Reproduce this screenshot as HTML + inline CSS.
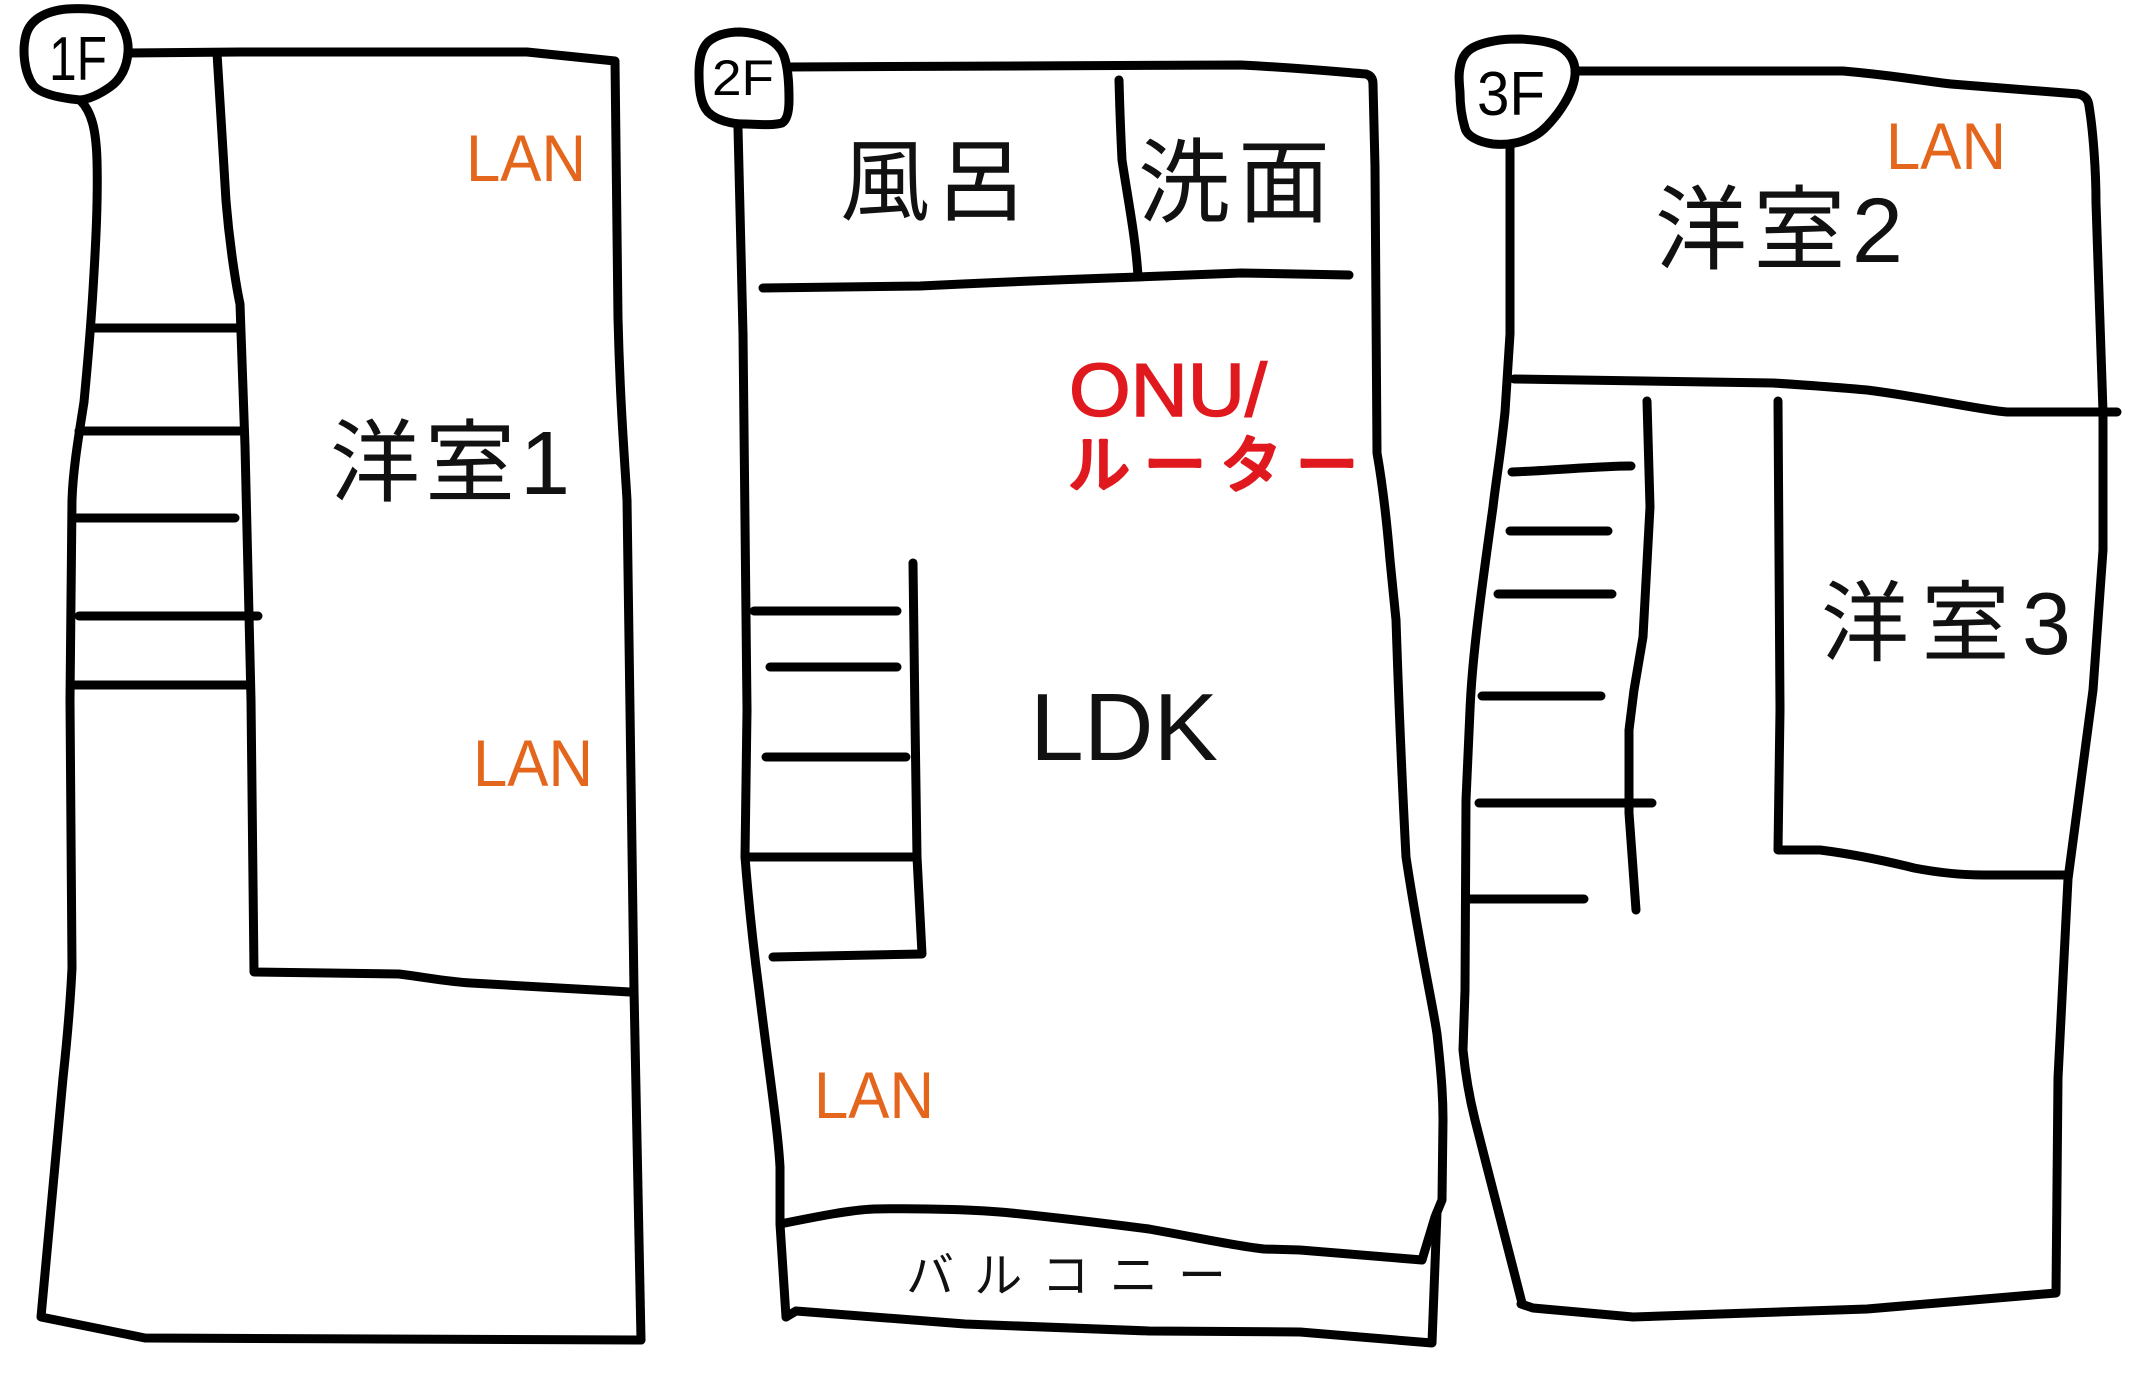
<!DOCTYPE html>
<html><head><meta charset="utf-8"><style>
html,body{margin:0;padding:0;background:#fff;}
body{width:2132px;height:1374px;overflow:hidden;}
svg{display:block;}
.w{fill:none;stroke:#000;stroke-width:9;stroke-linecap:round;stroke-linejoin:round;}
.jp{font-family:"Liberation Sans","Noto Sans CJK JP",sans-serif;font-weight:400;fill:#111;}
.lan{font-family:"Liberation Sans","Noto Sans CJK JP",sans-serif;fill:#e4661d;font-size:66px;}
.fl{font-family:"Liberation Sans",sans-serif;fill:#000;}
.red{fill:#e0191f;}
</style></head><body>
<svg width="2132" height="1374" viewBox="0 0 2132 1374" xmlns="http://www.w3.org/2000/svg">
<rect width="2132" height="1374" fill="#fff"/>

<!-- ===== 1F ===== -->
<path class="w" d="M80,100 C60,98 40,94 33,85 C24,72 22,50 26,35 C30,20 45,11 67,9 C85,8 100,9 110,14 C124,22 129,40 128,52 C127,68 120,80 110,87 C100,94 90,99 80,100 Z"/>
<text class="fl" x="78" y="80" font-size="62" text-anchor="middle" textLength="58" lengthAdjust="spacingAndGlyphs">1F</text>
<path class="w" d="M80,100 C92,112 96,130 97,160 C98,200 96,240 93,290 C90,340 86,380 84,402 C78,440 73,470 72,500 L70,700 L72,968 C70,1010 66,1050 63,1078 L41,1317 L145,1338 L641,1340"/>
<path class="w" d="M128,53 L240,52 L527,52 L615,61 L618,318 C620,400 624,450 627,500 L634,990 L641,1340"/>
<path class="w" d="M217,53 C220,100 224,170 226,201 C230,250 237,290 240,304 L245,446 L251,700 L254,972 L399,974 C430,978 450,982 471,983 L630,992"/>
<path class="w" d="M93,328 L238,328 M79,431 L240,431 M77,518 L235,518 M79,616 L258,616 M75,685 L247,685"/>
<text class="lan" x="466" y="181" textLength="120" lengthAdjust="spacingAndGlyphs">LAN</text>
<text class="lan" x="473" y="786" textLength="120" lengthAdjust="spacingAndGlyphs">LAN</text>
<text class="jp" x="330" y="494" font-size="90" textLength="240">洋室1</text>

<!-- ===== 2F ===== -->
<path class="w" d="M745,124 C730,124 716,120 708,112 C700,103 699,88 699,73 C699,58 702,48 708,42 C716,35 726,32 740,32 C760,33 778,40 784,56 C789,70 789,90 789,100 C789,112 787,120 782,123 C770,126 757,124 745,124 Z"/>
<text class="fl" x="743" y="95" font-size="50" text-anchor="middle" textLength="62" lengthAdjust="spacingAndGlyphs">2F</text>
<path class="w" d="M789,67 L1241,65 C1300,68 1340,72 1366,74 Q1373,76 1373,84 L1375,167 L1377,453 C1380,470 1385,500 1390,560 L1396,620 C1400,740 1403,800 1406,857 C1420,950 1432,1000 1437,1034 C1442,1080 1443,1100 1443,1120 L1442,1200 L1435,1217 L1422,1260"/>
<path class="w" d="M1437,1212 L1432,1343 L1300,1332 L1149,1331 L965,1324 L796,1311 L786,1317"/>
<path class="w" d="M780,1224 C820,1216 850,1210 874,1209 C930,1208 980,1210 1011,1213 C1070,1219 1110,1224 1149,1229 C1200,1238 1235,1246 1264,1249 L1300,1250 L1422,1260"/>
<path class="w" d="M738,128 L743,334 L747,710 L745,857 C750,920 755,960 759,990 C770,1080 778,1130 780,1167 L780,1224 L786,1317"/>
<path class="w" d="M763,288 L920,286 C1000,282 1080,279 1138,277 L1241,273 L1349,275"/>
<path class="w" d="M1119,80 C1120,120 1121,140 1122,160 C1128,200 1136,240 1138,277"/>
<path class="w" d="M913,563 L915,720 L917,857 L922,954 L773,957"/>
<path class="w" d="M754,611 L897,611 M770,667 L897,667 M766,757 L906,757 M745,857 L915,857"/>
<text class="jp" x="840" y="213" font-size="90" textLength="186">風呂</text>
<text class="jp" x="1138" y="215" font-size="92" textLength="192">洗面</text>
<text class="fl red" x="1069" y="416" font-size="75" textLength="198" lengthAdjust="spacingAndGlyphs" stroke="#e0191f" stroke-width="1.5">ONU/</text>
<text class="jp" x="1068" y="487" font-size="62" font-weight="700" textLength="290" style="fill:#e0191f" stroke="#e0191f" stroke-width="3.5" stroke-linejoin="round">ルーター</text>
<text class="fl" x="1030" y="760" font-size="96" textLength="188" lengthAdjust="spacingAndGlyphs" style="fill:#111">LDK</text>
<text class="lan" x="814" y="1118" textLength="120" lengthAdjust="spacingAndGlyphs">LAN</text>
<text class="jp" x="906" y="1292" font-size="48" textLength="320">バルコニー</text>

<!-- ===== 3F ===== -->
<path class="w" d="M1493,144 C1478,142 1467,136 1465,128 C1461,115 1460,100 1460,92 C1459,80 1458,72 1462,60 C1466,50 1474,46 1485,43 C1500,39 1510,39 1520,39 C1540,40 1555,43 1562,48 C1572,55 1576,64 1575,75 C1574,88 1566,102 1558,113 C1548,126 1540,134 1530,138 C1518,144 1505,145 1493,144 Z"/>
<text class="fl" x="1511" y="115" font-size="62" text-anchor="middle" textLength="68" lengthAdjust="spacingAndGlyphs">3F</text>
<path class="w" d="M1575,71 L1843,71 C1900,76 1930,82 1951,84 L2078,94 Q2088,96 2089,106 C2093,130 2096,170 2096,203 L2103,412 L2103,550 L2093,690 L2068,879 L2058,1078 L2056,1293 L1867,1309 L1633,1317 L1533,1308 L1521,1304"/>
<path class="w" d="M1510,145 L1510,334 L1505,412 C1500,460 1496,480 1493,507 C1480,600 1472,660 1470,710 L1466,800 L1465,990 L1463,1050 C1466,1080 1470,1100 1475,1120 L1487,1167 L1522,1303"/>
<path class="w" d="M1514,379 L1773,383 C1820,386 1845,388 1867,390 C1930,398 1980,410 2007,412 L2117,412"/>
<path class="w" d="M1647,401 L1650,507 L1643,637 L1634,690 L1629,730 L1629,813 L1636,910"/>
<path class="w" d="M1778,401 L1780,710 L1778,850 L1820,850 C1860,855 1890,862 1914,868 C1940,873 1960,875 1984,875 L2065,875"/>
<path class="w" d="M1512,472 C1560,470 1600,466 1631,466 M1510,531 L1608,531 M1498,594 L1612,594 M1482,696 L1601,696 M1479,803 L1652,803 M1470,899 L1584,899"/>
<text class="lan" x="1886" y="169" textLength="120" lengthAdjust="spacingAndGlyphs">LAN</text>
<text class="jp" x="1655" y="262" font-size="92" textLength="248">洋室2</text>
<text class="jp" x="1821" y="654" font-size="88" textLength="250">洋室3</text>
</svg>
</body></html>
